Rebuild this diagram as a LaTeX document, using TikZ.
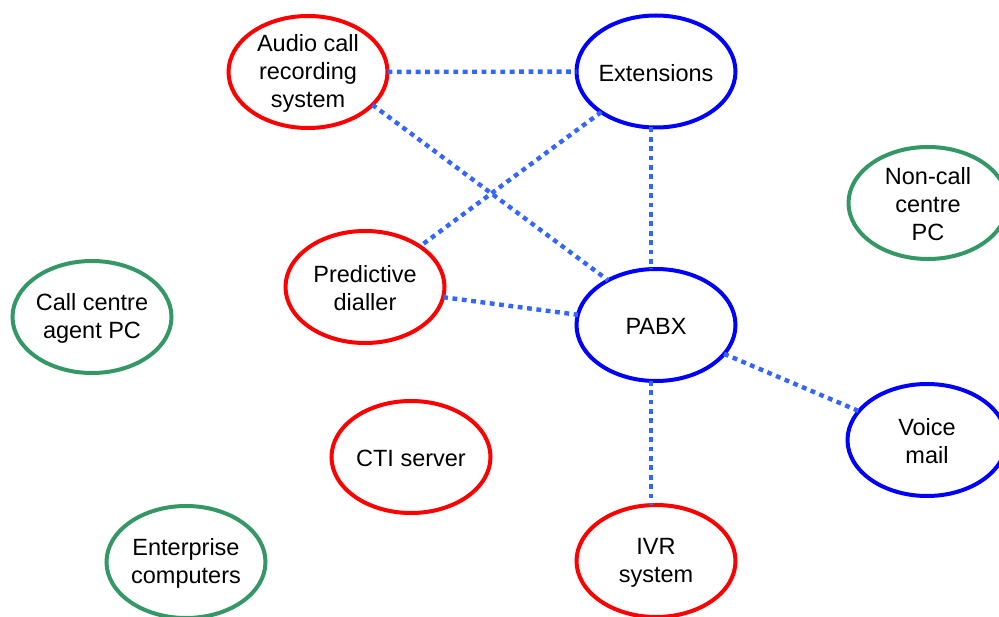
\documentclass[tikz,border=0pt]{standalone}
\usepackage{fontspec}
\setmainfont{Liberation Sans}
\usetikzlibrary{shapes.geometric}
\definecolor{ccred}{RGB}{255,0,0}
\definecolor{ccblue}{RGB}{0,0,255}
\definecolor{ccgreen}{RGB}{52,152,102}
\definecolor{linkblue}{RGB}{51,102,255}
\tikzset{
  unit/.style={ellipse, draw=#1, line width=4pt, minimum width=159pt,
    minimum height=112pt, inner sep=0pt, outer sep=0pt},
  txt/.style={align=center, font=\fontsize{23.5pt}{28pt}\selectfont, inner sep=0pt,
    yshift=-1.5pt},
  link/.style={draw=linkblue, line width=4.4pt, dash pattern=on 4.8pt off 4.6pt}
}
\begin{document}
\begin{tikzpicture}[x=1pt, y=-1pt]
  \path[use as bounding box, fill=white] (0,0) rectangle (999,617);
  \clip (0,0) rectangle (999,617);

  % telephony units
  \node[unit=ccred,  label={[txt]center:Audio call\\recording\\system}] (audio) at (308,72) {};
  \node[unit=ccblue, label={[txt]center:Extensions}] (ext) at (656,71.5) {};
  \node[unit=ccgreen,label={[txt]center:Non-call\\centre\\PC}] (noncall) at (928,203) {};
  \node[unit=ccred,  label={[txt]center:Predictive\\dialler}] (dialler) at (365,287) {};
  \node[unit=ccgreen,label={[txt]center:Call centre\\agent PC}] (agent) at (92,317) {};
  \node[unit=ccblue, label={[txt]center:PABX}] (pabx) at (656,325) {};
  \node[unit=ccblue, label={[txt]center:Voice\\mail}] (vmail) at (927,440) {};
  \node[unit=ccred,  label={[txt]center:CTI server}] (cti) at (411,457) {};
  \node[unit=ccgreen,label={[txt]center:Enterprise\\computers}] (ent) at (186,562) {};
  \node[unit=ccred,  label={[txt]center:IVR\\system}] (ivr) at (656,561) {};

  % voice links
  \draw[link] (audio) -- (ext);
  \draw[link] (audio.-27) -- (pabx.137);
  \draw[link] (ext) -- (dialler);
  \draw[link] (ext.-95) -- (pabx.95);
  \draw[link] (dialler) -- (pabx);
  \draw[link] (pabx) -- (vmail);
  \draw[link] (pabx.-95) -- (ivr.95);
\end{tikzpicture}
\end{document}
